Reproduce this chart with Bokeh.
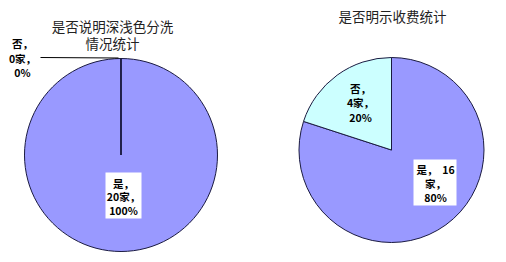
import math
from bokeh.plotting import figure
from bokeh.models import Range1d
from bokeh.core.properties import value
from bokeh.embed import file_html
from bokeh.resources import INLINE

W, H = 506, 262

# Chart data
left_title = ["是否说明深浅色分洗", "情况统计"]
left_cats = ["是", "否"]
left_counts = [20, 0]

right_title = ["是否明示收费统计"]
right_cats = ["是", "否"]
right_counts = [16, 4]

colors_left = ["#9999FF", "#CCFFFF"]
colors_right = ["#9999FF", "#CCFFFF"]

FONT = value("Noto Sans CJK SC")
NBSP = "\u00a0"

p = figure(width=W, height=H, output_backend="svg", toolbar_location=None,
           x_range=Range1d(0, W), y_range=Range1d(0, H), min_border=0)
p.axis.visible = False
p.grid.visible = False
p.outline_line_color = None
p.background_fill_color = "white"
p.border_fill_color = "white"


def Y(py):
    """Convert a top-down pixel row to the plot's data y."""
    return H - py


def pie(cx, cy, r, counts, colors):
    total = float(sum(counts))
    starts, ends = [], []
    cum = 0.0
    for c in counts:
        frac0 = cum / total
        cum += c
        frac1 = cum / total
        # slices run clockwise from 12 o'clock
        s = math.pi / 2 - frac1 * 2 * math.pi
        e = math.pi / 2 - frac0 * 2 * math.pi
        if e - s >= 2 * math.pi - 1e-9:
            s += 1e-3          # keep a full slice from collapsing
        elif e - s <= 1e-9:
            e = s + 1e-4       # an empty slice still shows its edge
        starts.append(s)
        ends.append(e)
    p.wedge(x=[cx] * len(counts), y=[Y(cy)] * len(counts), radius=r,
            start_angle=starts, end_angle=ends, fill_color=colors,
            line_color="#1a1a40", line_width=1)


def label(lines, cx, ys, size="10.5px", bold=True, color="black"):
    p.text(x=[cx] * len(lines), y=[Y(v) for v in ys], text=lines,
           text_font=FONT, text_font_size=size,
           text_font_style="bold" if bold else "normal",
           text_color=color, text_align="center", text_baseline="middle")


def pct(counts, i):
    return round(100 * counts[i] / sum(counts))


# Left pie
pie(120.5, 154.5, 96.5, left_counts, colors_left)
label(left_title, 112, [25, 42], size="13.5px", bold=False, color="#222222")
p.segment(x0=[40], y0=[Y(57)], x1=[118], y1=[Y(57.5)], line_color="black", line_width=1)
label([f"{left_cats[1]}，", f"{left_counts[1]}家，", f"{pct(left_counts, 1)}%"],
      22, [43, 58, 72])
p.quad(left=[105], right=[141], top=[Y(172)], bottom=[Y(218)],
       fill_color="white", line_color=None)
label([f"{left_cats[0]}，", f"{left_counts[0]}家，", f"{pct(left_counts, 0)}%"],
      123, [183, 196, 210])

# Right pie
pie(391, 149.5, 92.5, right_counts, colors_right)
label(right_title, 392, [15], size="13.5px", bold=False, color="#222222")
label([f"{right_cats[1]}，", f"{right_counts[1]}家，", f"{pct(right_counts, 1)}%"],
      360, [88, 102, 117])
p.quad(left=[413], right=[456], top=[Y(159)], bottom=[Y(205)],
       fill_color="white", line_color=None)
label([f"{right_cats[0]}，{NBSP}{NBSP}{right_counts[0]}", "家，", f"{pct(right_counts, 0)}%"],
      435, [169, 183, 197])

open("out.html", "w").write(file_html(p, INLINE))
